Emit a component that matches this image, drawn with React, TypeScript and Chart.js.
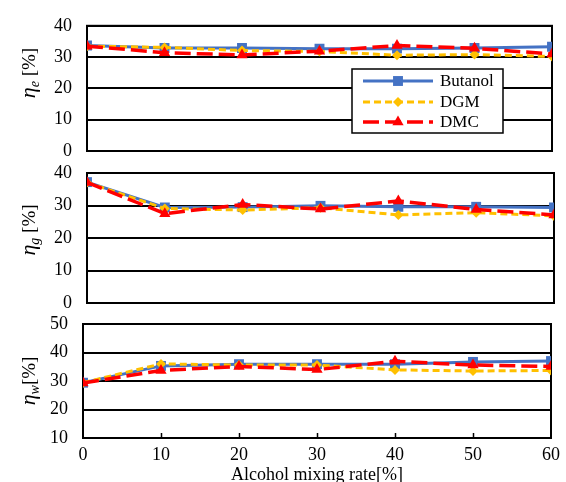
import React, { useEffect, useRef } from 'react';
import { Chart, registerables } from 'chart.js';

Chart.register(...registerables);

// ---- data ----
const mixingRates = [0, 10, 20, 30, 40, 50, 60];
const seriesNames = ['Butanol', 'DGM', 'DMC'];

const etaE_Butanol = [33.7, 32.9, 32.9, 32.7, 32.7, 32.9, 33.3];
const etaE_DGM = [33.5, 33.1, 32.1, 31.8, 30.6, 30.8, 30.2];
const etaE_DMC = [33.5, 31.4, 30.7, 31.9, 33.7, 32.8, 31.0];

const etaG_Butanol = [37.2, 29.4, 29.5, 29.9, 29.6, 29.6, 29.4];
const etaG_DGM = [37.1, 29.1, 28.6, 29.3, 27.1, 27.8, 26.8];
const etaG_DMC = [37.1, 27.5, 30.3, 28.9, 31.4, 28.8, 27.1];

const etaW_Butanol = [29.4, 35.3, 35.9, 35.9, 35.9, 36.7, 37.0];
const etaW_DGM = [29.4, 36.0, 35.6, 35.6, 33.9, 33.5, 33.7];
const etaW_DMC = [29.3, 33.7, 35.1, 34.0, 36.9, 35.6, 35.1];

const xTickLabels = ['0', '10', '20', '30', '40', '50', '60'];
const xAxisTitle = 'Alcohol mixing rate[%]';

// ---- styles ----
const W = 566;
const H = 482;
const SERIF = "'Liberation Serif', 'Times New Roman', serif";
const colors = ['#4472C4', '#FFC000', '#FF0000'];
const dashes: number[][] = [[], [7, 4], [16, 6]];
const widths = [3, 3, 3.5];
const pointStyles = ['rect', 'rectRot', 'triangle'];
const pointRadii = [7, 5, 6.5];
const orders = [3, 2, 1];

function makeDatasets(values: number[][]) {
  return values.map((vals, i) => ({
    label: seriesNames[i],
    data: vals.map((v, j) => ({ x: mixingRates[j], y: v })),
    borderColor: colors[i],
    backgroundColor: colors[i],
    borderWidth: widths[i],
    borderDash: dashes[i],
    pointStyle: pointStyles[i],
    pointRadius: pointRadii[i],
    pointBorderWidth: 0,
    pointBackgroundColor: colors[i],
    pointBorderColor: colors[i],
    tension: 0,
    order: orders[i],
  }));
}

function drawMarker(ctx: CanvasRenderingContext2D, style: string, x: number, y: number, r: number) {
  ctx.beginPath();
  if (style === 'rect') {
    const s = Math.SQRT1_2 * r;
    ctx.rect(x - s, y - s, 2 * s, 2 * s);
  } else if (style === 'rectRot') {
    ctx.moveTo(x, y - r);
    ctx.lineTo(x + r, y);
    ctx.lineTo(x, y + r);
    ctx.lineTo(x - r, y);
    ctx.closePath();
  } else {
    ctx.moveTo(x, y - r);
    ctx.lineTo(x + r * Math.sin((2 * Math.PI) / 3), y - r * Math.cos((2 * Math.PI) / 3));
    ctx.lineTo(x + r * Math.sin((4 * Math.PI) / 3), y - r * Math.cos((4 * Math.PI) / 3));
    ctx.closePath();
  }
  ctx.fill();
}

type PanelCfg = {
  values: number[][];
  yMin: number;
  yMax: number;
  left: number;
  right: number;
  top: number;
  bottom: number;
  showX: boolean;
  sub: string;
  gap: string;
  titleY: number;
  legend: boolean;
};

const panels: PanelCfg[] = [
  { values: [etaE_Butanol, etaE_DGM, etaE_DMC], yMin: 0, yMax: 40, left: 87, right: 552, top: 20, bottom: 151, showX: false, sub: 'e', gap: ' ', titleY: 73, legend: true },
  { values: [etaG_Butanol, etaG_DGM, etaG_DMC], yMin: 0, yMax: 40, left: 87, right: 554, top: 173, bottom: 303, showX: false, sub: 'g', gap: ' ', titleY: 230, legend: false },
  { values: [etaW_Butanol, etaW_DGM, etaW_DMC], yMin: 10, yMax: 50, left: 83, right: 552, top: 324, bottom: 438, showX: true, sub: 'w', gap: '', titleY: 381, legend: false },
];

function makePlugin(cfg: PanelCfg) {
  return {
    id: 'panelDecor',
    beforeDatasetsDraw(chart: any) {
      const { ctx, chartArea } = chart;
      ctx.save();
      ctx.strokeStyle = '#000';
      ctx.lineWidth = 2;
      ctx.strokeRect(chartArea.left, chartArea.top, chartArea.right - chartArea.left, chartArea.bottom - chartArea.top);
      if (cfg.showX) {
        const xs = chart.scales.x;
        ctx.lineWidth = 1.5;
        for (let i = 1; i < mixingRates.length - 1; i++) {
          const px = Math.round(xs.getPixelForValue(mixingRates[i])) + 0.5;
          ctx.beginPath();
          ctx.moveTo(px, chartArea.bottom);
          ctx.lineTo(px, chartArea.bottom - 5);
          ctx.stroke();
        }
      }
      ctx.restore();
    },
    afterDraw(chart: any) {
      const ctx: CanvasRenderingContext2D = chart.ctx;
      // y axis title: eta with subscript
      ctx.save();
      const f1 = `italic 22px ${SERIF}`;
      const f2 = `italic 14px ${SERIF}`;
      const f3 = `19px ${SERIF}`;
      ctx.font = f1;
      const w1 = ctx.measureText('η').width;
      ctx.font = f2;
      const w2 = ctx.measureText(cfg.sub).width;
      ctx.font = f3;
      const w3 = ctx.measureText(cfg.gap + '[%]').width;
      const total = w1 + w2 + w3;
      ctx.translate(35, cfg.titleY);
      ctx.rotate(-Math.PI / 2);
      ctx.fillStyle = '#000';
      ctx.textAlign = 'left';
      ctx.textBaseline = 'alphabetic';
      let px = -total / 2;
      ctx.font = f1;
      ctx.fillText('η', px, 0);
      px += w1;
      ctx.font = f2;
      ctx.fillText(cfg.sub, px, 4);
      px += w2;
      ctx.font = f3;
      ctx.fillText(cfg.gap + '[%]', px, 0);
      ctx.restore();

      if (cfg.legend) {
        ctx.save();
        const bx = 352, by = 69, bw = 151, bh = 64;
        ctx.fillStyle = '#fff';
        ctx.fillRect(bx, by, bw, bh);
        ctx.strokeStyle = '#000';
        ctx.lineWidth = 1.5;
        ctx.strokeRect(bx, by, bw, bh);
        const rows = [81, 102, 122];
        seriesNames.forEach((name, i) => {
          const y = rows[i];
          ctx.strokeStyle = colors[i];
          ctx.fillStyle = colors[i];
          ctx.lineWidth = widths[i];
          ctx.setLineDash(dashes[i]);
          ctx.beginPath();
          ctx.moveTo(363, y);
          ctx.lineTo(433, y);
          ctx.stroke();
          ctx.setLineDash([]);
          drawMarker(ctx, pointStyles[i], 398, y, pointRadii[i]);
          ctx.fillStyle = '#000';
          ctx.font = `17px ${SERIF}`;
          ctx.textBaseline = 'middle';
          ctx.textAlign = 'left';
          ctx.fillText(name, 440, y + 1);
        });
        ctx.restore();
      }
    },
  };
}

function Panel({ cfg }: { cfg: PanelCfg }) {
  const ref = useRef<HTMLCanvasElement>(null);
  useEffect(() => {
    if (!ref.current) return;
    const xScale: any = {
      type: 'linear',
      min: 0,
      max: 60,
      display: cfg.showX,
      grid: { display: false, drawTicks: false },
      border: { display: false },
      ticks: {
        stepSize: 10,
        padding: 6,
        color: '#000',
        font: { family: SERIF, size: 18 },
        callback: (v: any) => xTickLabels[mixingRates.indexOf(Number(v))] ?? '',
      },
      title: {
        display: cfg.showX,
        text: xAxisTitle,
        color: '#000',
        font: { family: SERIF, size: 18 },
        padding: { top: 0, bottom: -4 },
      },
    };
    if (cfg.showX) {
      xScale.afterFit = (s: any) => {
        s.height = H - cfg.bottom;
      };
    }
    const chart = new Chart(ref.current, {
      type: 'line',
      data: { datasets: makeDatasets(cfg.values) as any },
      options: {
        responsive: false,
        animation: false,
        devicePixelRatio: 1,
        layout: {
          padding: {
            left: 0,
            top: cfg.top,
            right: W - cfg.right,
            bottom: cfg.showX ? 0 : H - cfg.bottom,
          },
        },
        plugins: { legend: { display: false }, tooltip: { enabled: false } },
        scales: {
          x: xScale,
          y: {
            min: cfg.yMin,
            max: cfg.yMax,
            grid: { color: '#000', lineWidth: 2, drawTicks: false },
            border: { display: false },
            ticks: {
              stepSize: 10,
              padding: 15,
              color: '#000',
              font: { family: SERIF, size: 18 },
            },
            afterFit: (s: any) => {
              s.width = cfg.left;
            },
          },
        },
      },
      plugins: [makePlugin(cfg)],
    } as any);
    return () => chart.destroy();
  }, [cfg]);
  return (
    <canvas
      ref={ref}
      width={W}
      height={H}
      style={{ position: 'absolute', left: 0, top: 0, width: W, height: H }}
    />
  );
}

export default function App() {
  return (
    <div style={{ position: 'fixed', left: 0, top: 0, width: W, height: H, overflow: 'hidden', background: '#fff' }}>
      {panels.map((p, i) => (
        <Panel key={i} cfg={p} />
      ))}
    </div>
  );
}
